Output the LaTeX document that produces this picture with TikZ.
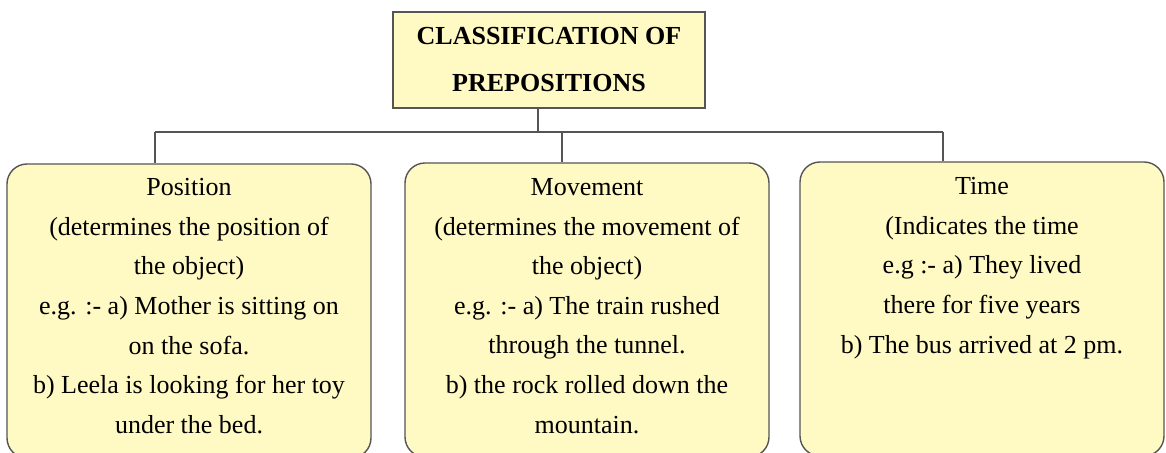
\documentclass[tikz,border=0pt]{standalone}
\usepackage{fontspec}
\setmainfont{Liberation Serif}
\usepackage{tikz}
\usetikzlibrary{positioning}

\definecolor{boxfill}{RGB}{255,249,196}
\definecolor{boxline}{RGB}{85,85,85}

\tikzset{
  headbox/.style={draw=boxline,fill=boxfill,line width=0.7pt,minimum width=156pt,minimum height=48pt,
    align=center,font=\fontsize{13}{23.5}\selectfont\bfseries,inner sep=0pt},
  catbox/.style={draw=boxline,fill=boxfill,line width=0.7pt,rounded corners=10pt,
    minimum width=182pt,minimum height=147pt,inner sep=0pt},
  cattext/.style={align=center,font=\fontsize{13}{19.8}\selectfont,inner sep=0pt,anchor=north},
  link/.style={draw=boxline,line width=0.6pt}
}

\begin{document}
\begin{tikzpicture}[x=0.5pt,y=-0.5pt]
\useasboundingbox (0,0) rectangle (1166,453);

% head
\node[headbox] (head) at (549,60) {CLASSIFICATION OF\\PREPOSITIONS};

% categories
\node[catbox] (pos) at (189,311) {};
\node[catbox] (mov) at (587,310) {};
\node[catbox] (tim) at (982,309) {};

\node[cattext] (postext) at (189,178) {Position\\(determines the position of\\the object)\\e.g. :- a) Mother is sitting on\\on the sofa.\\b) Leela is looking for her toy\\under the bed.};
\node[cattext] (movtext) at (587,178) {Movement\\(determines the movement of\\the object)\\e.g. :- a) The train rushed\\through the tunnel.\\b) the rock rolled down the\\mountain.};
\node[cattext] (timtext) at (982,177) {Time\\(Indicates the time\\e.g :- a) They lived\\there for five years\\b) The bus arrived at 2 pm.};

% connectors
\coordinate (bus) at (538,132);
\coordinate (busL) at (155,132);
\coordinate (busM) at (562,132);
\coordinate (busR) at (943,132);
\draw[link] (head.south -| bus) -- (bus);
\draw[link] (busL) -- (busR);
\draw[link] (busL) -- (busL |- pos.north);
\draw[link] (busM) -- (busM |- mov.north);
\draw[link] (busR) -- (busR |- tim.north);

\end{tikzpicture}
\end{document}
